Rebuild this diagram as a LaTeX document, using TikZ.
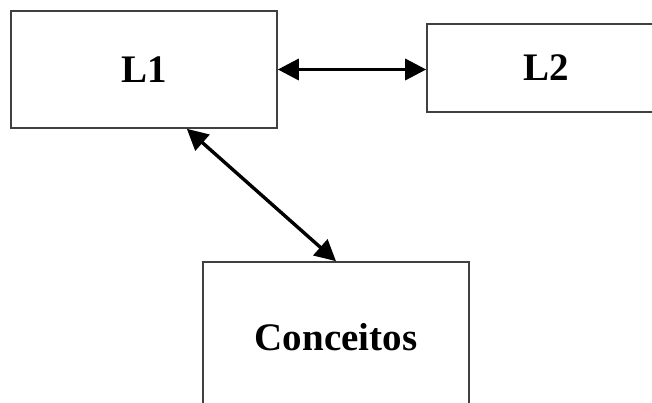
\documentclass[tikz,border=0pt]{standalone}
\usepackage{fontspec}
\setmainfont{Liberation Serif}
\usetikzlibrary{arrows.meta, calc}

\begin{document}
\begin{tikzpicture}[x=1pt, y=-1pt,
		box/.style={draw=black!75, line width=1.6pt, rectangle, inner sep=0pt,
			font=\fontsize{39}{39}\selectfont\bfseries},
		link/.style={line width=3.4pt, {Triangle[length=21pt,width=21pt]}-{Triangle[length=21pt,width=21pt]}}]
			\useasboundingbox (0,0) rectangle (652,403);
			\clip (0,0) rectangle (652,403);

			\node[box, minimum width=266pt, minimum height=117pt] (l1) at (144,69.5) {L1};
			\node[box, minimum width=238pt, minimum height=88pt] (l2) at (546,68) {L2};
			\node[box, minimum width=266pt, minimum height=150pt] (conc) at (336,337) {Conceitos};

			\draw[link] (l1.east) -- (l1.east -| l2.west);
			\draw[link] ($(l1.south west)!0.66!(l1.south east)$) -- (conc.north);
		\end{tikzpicture}
\end{document}
